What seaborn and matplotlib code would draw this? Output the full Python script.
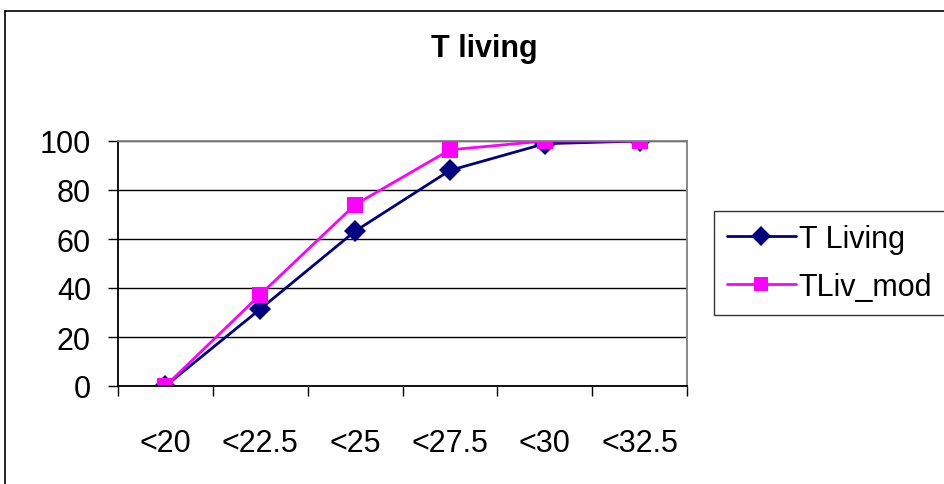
import pandas as pd
import seaborn as sns
import matplotlib.pyplot as plt
from matplotlib.lines import Line2D

# Data
bins = ["<20", "<22.5", "<25", "<27.5", "<30", "<32.5"]
t_living = [0, 31.4, 63.2, 88.0, 98.9, 100]
tliv_mod = [0, 37.3, 74.0, 96.4, 100, 100]

df = pd.DataFrame({"bin": bins, "T Living": t_living, "TLiv_mod": tliv_mod})
df_long = df.melt(id_vars=["bin"], var_name="series", value_name="value")

sns.set_style("white")
plt.rcParams["font.family"] = ["Liberation Sans", "DejaVu Sans"]
plt.rcParams["text.color"] = "black"
plt.rcParams["xtick.color"] = "black"
plt.rcParams["ytick.color"] = "black"
plt.rcParams["axes.labelcolor"] = "black"

fig = plt.figure(figsize=(9.44, 4.85), dpi=100)
ax = fig.add_axes([118 / 944, 1 - 387 / 485, (687 - 118) / 944, (387 - 142) / 485])

sns.lineplot(data=df_long, x="bin", y="value", hue="series", style="series",
             markers={"T Living": "D", "TLiv_mod": "s"}, dashes=False,
             palette={"T Living": "#000080", "TLiv_mod": "#FF00FF"},
             markersize=11, linewidth=2.0, markeredgewidth=0, ax=ax)

ax.set_xlim(-0.5, 5.5)
ax.set_ylim(0, 100)
ax.set_yticks(range(0, 101, 20))
ax.set_xticks(range(len(bins)))
ax.set_xticklabels(bins)
ax.set_xticks([i - 0.5 for i in range(len(bins) + 1)], minor=True)
ax.tick_params(axis="x", which="major", length=0, pad=30, labelsize=22)
ax.tick_params(axis="x", which="minor", length=7.5, width=1, color="black", bottom=True)
ax.tick_params(axis="y", length=7.5, width=1, color="black", left=True, labelsize=22, pad=12)
ax.set_xlabel("")
ax.set_ylabel("")
ax.yaxis.grid(True, color="black", linewidth=1)
ax.set_axisbelow(True)
for s in ["left", "bottom"]:
    ax.spines[s].set_color("black")
    ax.spines[s].set_linewidth(1.3)
for s in ["top", "right"]:
    ax.spines[s].set_color("#808080")
    ax.spines[s].set_linewidth(1.3)

# Legend outside on the right
handles, labels = ax.get_legend_handles_labels()
ax.get_legend().remove()
for h in handles:
    h.set_markersize(10)
leg = fig.legend(handles, labels, loc="upper left", bbox_to_anchor=(714 / 944, 1 - 212 / 485),
                 frameon=True, fancybox=False, fontsize=22, handlelength=2.25,
                 borderpad=0.42, labelspacing=0.6, handletextpad=0.1, borderaxespad=0)
leg.get_frame().set_edgecolor("black")
leg.get_frame().set_linewidth(1)

fig.text(0.513, 1 - 49 / 485, "T living", ha="center", va="center", fontsize=22, fontweight="bold")

# Chart-area border (left and top visible)
fig.add_artist(Line2D([5 / 944, 5 / 944], [0, 1 - 12 / 485], color="black", linewidth=1.2))
fig.add_artist(Line2D([5 / 944, 1], [1 - 12 / 485, 1 - 12 / 485], color="black", linewidth=1.2))

fig.savefig("out.png", dpi=100)
